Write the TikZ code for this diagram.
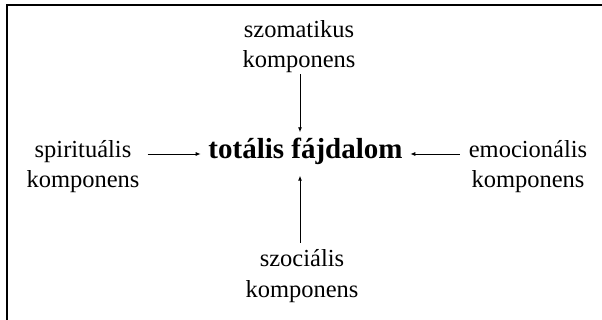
\documentclass[tikz,border=0pt]{standalone}
\usepackage{fontspec}
\setmainfont{Liberation Serif}
\usetikzlibrary{arrows.meta}
\begin{document}
\begin{tikzpicture}[x=1pt,y=-1pt,
  comp/.style={align=center, anchor=base, inner sep=0pt,
    font=\fontsize{24.5}{30}\selectfont},
  hub/.style={anchor=base, inner sep=7.5pt, text height=19pt, text depth=9pt,
    font=\fontsize{29}{34}\selectfont\bfseries},
  link/.style={-{Latex[length=5pt,width=4pt]}, line width=0.9pt}]
  \useasboundingbox (0,0) rectangle (602,320);
  % open frame along the top and left edges
  \draw[line width=1.6pt] (7,320) -- (7,5) -- (602,5);

  % the base anchor of a two-line label sits on its second line
  \node[hub] (pain) at (305.5,159) {totális fájdalom};
  \node[comp] (som) at (299,68) {szomatikus\\komponens};
  \node[comp] (spi) at (83,188) {spirituális\\komponens};
  \node[comp] (emo) at (528,188) {emocionális\\komponens};
  \node[comp] (soc) at (302,297) {szociális\\komponens};

  \draw[link, shorten <=1pt] (som.south -| 300,0) -- (pain.north -| 300,0);
  \draw[link, shorten <=7pt] (soc.north -| 300,0) -- (pain.south -| 300,0);
  \draw[link, shorten <=8pt] (spi.east |- pain.west) -- (pain.west);
  \draw[link, shorten <=9pt] (emo.west |- pain.east) -- (pain.east);
\end{tikzpicture}
\end{document}
